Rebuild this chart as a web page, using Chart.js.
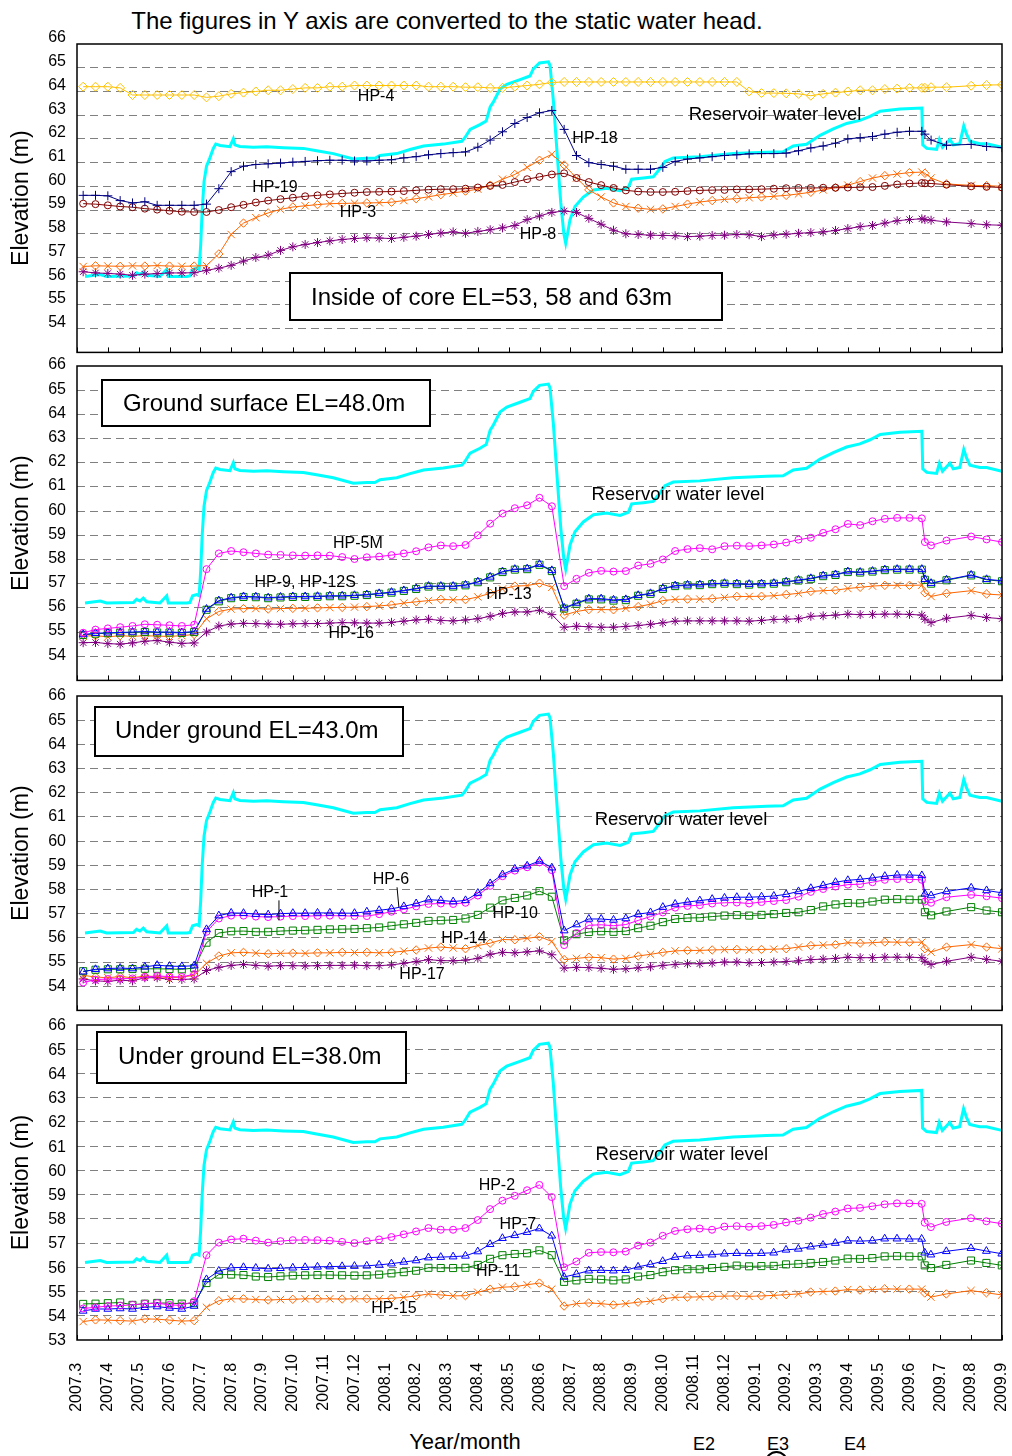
<!DOCTYPE html>
<html>
<head>
<meta charset="utf-8">
<script src="https://cdn.jsdelivr.net/npm/chart.js"></script>
<style>
html, body { margin: 0; padding: 0; background: #fff; overflow: hidden; }
#page { position: relative; width: 1012px; height: 1456px; overflow: hidden; font-family: "Liberation Sans", Arial, sans-serif; color: #000; background: #fff; }
#page canvas { position: absolute; left: 0; }
.txt { position: absolute; white-space: nowrap; line-height: 1; transform: translateX(-50%); }
.ring { position: absolute; border: 2px solid #000; border-radius: 50%; box-sizing: border-box; }
</style>
</head>
<body>
<div id="page">
  <div class="txt" style="left:447px;top:9px;font-size:24px">The figures in Y axis are converted to the static water head.</div>
  <div class="txt" style="left:465px;top:1431px;font-size:22px">Year/month</div>
  <div class="txt" style="left:704px;top:1435px;font-size:18px">E2</div>
  <div class="txt" style="left:778px;top:1435px;font-size:18px">E3</div>
  <div class="txt" style="left:855px;top:1435px;font-size:18px">E4</div>
  <div class="ring" style="left:765px;top:1451px;width:23px;height:23px"></div>
</div>
<script>
// Month axis: 0 = 2007.3 ... 30 = 2009.9
const MONTH_LABELS = ['2007.3','2007.4','2007.5','2007.6','2007.7','2007.8','2007.9','2007.10','2007.11','2007.12',
  '2008.1','2008.2','2008.3','2008.4','2008.5','2008.6','2008.7','2008.8','2008.9','2008.10','2008.11','2008.12',
  '2009.1','2009.2','2009.3','2009.4','2009.5','2009.6','2009.7','2009.8','2009.9'];

// Piezometer reading times (months since 2007.3)
const T = [0.2,0.6,1.0,1.4,1.8,2.2,2.6,3.0,3.4,3.8,
  4.2,4.6,5.0,5.4,5.8,6.2,6.6,7.0,7.4,7.8,
  8.2,8.6,9.0,9.4,9.8,10.2,10.6,11.0,11.4,11.8,
  12.2,12.6,13.0,13.4,13.8,14.2,14.6,15.0,15.4,15.8,
  16.2,16.6,17.0,17.4,17.8,18.2,18.6,19.0,19.4,19.8,
  20.2,20.6,21.0,21.4,21.8,22.2,22.6,23.0,23.4,23.8,
  24.2,24.6,25.0,25.4,25.8,26.2,26.6,27.0,27.4,
  27.5,27.7,28.2,29.0,29.5,30.0];

// Reservoir water level (m)
const RES_T = [0.26,0.75,0.96,1.83,1.93,2.04,2.15,2.26,2.69,2.91,2.96,3.56,3.66,3.75,3.88,3.96,4.01,4.06,4.12,4.2,
  4.31,4.42,4.5,4.64,4.96,5.07,5.12,5.28,5.72,6.15,6.69,7.34,7.77,8.31,8.96,9.4,9.66,9.83,10.37,10.8,
  11.24,11.88,12.48,12.58,12.75,13.07,13.27,13.4,13.5,13.72,13.94,14.37,14.69,14.8,15.0,15.29,15.34,15.45,15.56,15.69,
  15.79,15.85,15.91,15.99,16.15,16.42,16.75,17.18,17.61,17.88,17.99,18.37,18.69,18.91,19.07,19.34,20.2,21.28,22.36,22.9,
  23.23,23.66,24.1,24.53,24.96,25.39,25.72,26.05,26.69,27.4,27.43,27.56,27.88,27.97,28.07,28.31,28.42,28.63,28.76,28.85,
  28.96,29.28,29.5,30.0];
const RES_V = [56.2,56.28,56.2,56.22,56.35,56.28,56.4,56.25,56.2,56.5,56.2,56.2,56.22,56.5,56.55,56.5,57.5,59.0,60.2,60.85,
  61.2,61.6,61.78,61.72,61.67,62.0,61.75,61.68,61.65,61.67,61.63,61.6,61.5,61.38,61.15,61.18,61.18,61.3,61.38,61.55,
  61.7,61.78,61.9,62.05,62.4,62.6,62.75,63.35,63.55,64.1,64.3,64.5,64.65,64.95,65.2,65.25,65.1,63.6,61.6,59.3,
  58.0,57.6,58.0,58.6,59.15,59.55,59.85,59.92,59.82,59.95,60.3,60.35,60.4,60.75,61.05,61.2,61.25,61.38,61.44,61.46,
  61.7,61.77,62.15,62.42,62.65,62.78,62.95,63.17,63.26,63.3,61.75,61.6,61.56,61.98,61.65,61.98,61.75,61.8,62.55,62.2,
  61.9,61.8,61.8,61.65];

// Inside of core EL=53, 58 and 63m
const HP4 = [64.2,64.2,64.2,64.15,63.85,63.85,63.85,63.85,63.85,63.85,
  63.75,63.8,63.9,63.95,64.0,64.05,64.05,64.1,64.15,64.15,
  64.2,64.2,64.25,64.25,64.25,64.25,64.25,64.25,64.2,64.2,
  64.2,64.18,64.18,64.15,64.15,64.2,64.25,64.3,64.38,64.4,
  64.4,64.4,64.4,64.4,64.4,64.4,64.4,64.4,64.4,64.4,
  64.4,64.4,64.4,64.4,64.0,63.93,63.93,63.92,63.9,63.82,
  63.9,63.95,64.0,64.05,64.05,64.1,64.12,64.15,64.15,
  64.15,64.18,64.18,64.24,64.27,64.28];
const HP18 = [59.62,59.62,59.6,59.4,59.3,59.35,59.2,59.2,59.2,59.2,
  59.25,59.9,60.62,60.85,60.92,60.95,60.98,61.02,61.05,61.08,
  61.1,61.1,61.07,61.07,61.1,61.12,61.2,61.25,61.33,61.38,
  61.42,61.45,61.65,61.95,62.3,62.65,62.9,63.1,63.2,62.4,
  61.3,61.0,60.92,60.85,60.72,60.72,60.72,60.8,61.05,61.15,
  61.2,61.25,61.3,61.33,61.37,61.38,61.38,61.4,61.5,61.62,
  61.7,61.82,62.0,62.05,62.1,62.2,62.28,62.32,62.32,
  62.2,61.95,61.73,61.77,61.68,61.63];
const HP19 = [59.27,59.25,59.2,59.15,59.12,59.06,59.02,58.97,58.93,58.92,
  58.92,59.0,59.12,59.22,59.32,59.4,59.46,59.52,59.58,59.62,
  59.66,59.7,59.73,59.76,59.77,59.78,59.8,59.83,59.86,59.88,
  59.88,59.9,59.95,60.02,60.06,60.18,60.3,60.4,60.5,60.55,
  60.35,60.18,60.05,59.93,59.83,59.78,59.76,59.76,59.77,59.8,
  59.83,59.84,59.85,59.87,59.87,59.88,59.9,59.92,59.93,59.93,
  59.94,59.94,59.95,59.96,59.97,60.02,60.08,60.12,60.14,
  60.13,60.12,60.07,60.0,59.98,59.95];
const HP3 = [56.62,56.65,56.64,56.63,56.65,56.64,56.66,56.64,56.63,56.64,
  56.66,57.15,57.97,58.45,58.68,58.88,59.03,59.13,59.18,59.23,
  59.27,59.28,59.29,59.3,59.31,59.33,59.4,59.48,59.56,59.65,
  59.72,59.8,59.88,60.05,60.3,60.5,60.8,61.1,61.35,60.9,
  60.35,59.85,59.55,59.3,59.15,59.08,59.03,59.05,59.15,59.25,
  59.34,59.4,59.45,59.48,59.52,59.55,59.58,59.62,59.68,59.75,
  59.85,59.95,60.05,60.2,60.35,60.45,60.52,60.58,60.6,
  60.55,60.35,60.1,60.04,60.03,60.0];
const HP8 = [56.4,56.35,56.33,56.3,56.25,56.3,56.32,56.35,56.35,56.36,
  56.46,56.55,56.67,56.85,57.0,57.1,57.3,57.45,57.55,57.63,
  57.7,57.76,57.8,57.83,57.82,57.8,57.85,57.9,57.97,58.03,
  58.08,58.02,58.1,58.17,58.25,58.35,58.6,58.75,58.9,58.96,
  58.9,58.65,58.4,58.15,58.0,57.97,57.94,57.93,57.92,57.88,
  57.9,57.93,57.94,57.97,57.96,57.88,57.95,57.98,58.02,58.05,
  58.08,58.14,58.22,58.3,58.35,58.45,58.55,58.6,58.63,
  58.6,58.57,58.5,58.43,58.38,58.36];

// Ground surface EL=48.0m
const HP5M = [54.97,55.1,55.15,55.2,55.25,55.32,55.3,55.28,55.25,55.3,
  57.6,58.25,58.35,58.3,58.25,58.2,58.19,58.17,58.16,58.17,
  58.16,58.1,58.02,58.09,58.12,58.18,58.25,58.34,58.5,58.58,
  58.55,58.6,59.0,59.48,59.9,60.12,60.24,60.55,60.2,56.9,
  57.2,57.45,57.53,57.5,57.52,57.75,57.82,58.0,58.35,58.43,
  58.47,58.42,58.55,58.57,58.55,58.58,58.62,58.7,58.82,58.9,
  59.1,59.25,59.47,59.42,59.58,59.68,59.72,59.72,59.7,
  58.72,58.58,58.78,58.95,58.83,58.72];
const HP9 = [54.9,54.95,54.97,54.98,55.0,55.02,55.0,55.0,54.98,55.02,
  55.95,56.3,56.42,56.47,56.46,56.42,56.45,56.47,56.47,56.48,
  56.5,56.5,56.52,56.55,56.6,56.65,56.72,56.8,56.9,56.9,
  56.9,56.95,57.08,57.28,57.5,57.6,57.62,57.8,57.55,56.0,
  56.2,56.38,56.38,56.33,56.35,56.52,56.6,56.8,56.92,56.95,
  56.96,57.0,57.02,57.0,56.98,57.0,57.02,57.08,57.15,57.22,
  57.33,57.38,57.5,57.48,57.52,57.58,57.6,57.6,57.6,
  57.18,57.02,57.16,57.36,57.18,57.12];
const HP12S = [54.88,54.93,54.95,54.97,54.98,55.0,54.98,54.98,54.96,55.0,
  55.92,56.27,56.4,56.45,56.44,56.4,56.43,56.45,56.45,56.46,
  56.48,56.48,56.5,56.53,56.58,56.63,56.7,56.78,56.88,56.88,
  56.88,56.93,57.06,57.26,57.48,57.58,57.6,57.78,57.52,55.97,
  56.17,56.35,56.35,56.3,56.32,56.5,56.58,56.78,56.9,56.93,
  56.94,56.98,57.0,56.98,56.96,56.98,57.0,57.06,57.13,57.2,
  57.31,57.36,57.48,57.46,57.5,57.56,57.58,57.58,57.58,
  57.16,57.0,57.14,57.34,57.16,57.1];
const HP13 = [54.83,54.85,54.8,54.85,54.82,54.85,54.83,54.82,54.85,54.9,
  55.55,55.85,55.95,55.97,55.97,55.95,55.97,55.98,55.98,56.0,
  56.01,56.02,56.03,56.05,56.08,56.12,56.2,56.25,56.3,56.35,
  56.33,56.34,56.45,56.6,56.78,56.9,56.92,57.02,56.85,55.7,
  55.85,55.93,55.93,55.92,55.98,56.05,56.15,56.3,56.35,56.36,
  56.36,56.38,56.43,56.47,56.47,56.48,56.5,56.55,56.6,56.68,
  56.71,56.73,56.8,56.85,56.9,56.93,56.93,56.93,56.94,
  56.62,56.47,56.6,56.71,56.57,56.53];
const HP16 = [54.56,54.57,54.52,54.5,54.55,54.62,54.65,54.58,54.53,54.55,
  55.0,55.25,55.33,55.36,55.35,55.33,55.32,55.34,55.35,55.35,
  55.37,55.39,55.38,55.37,55.37,55.4,55.45,55.5,55.53,55.48,
  55.46,55.5,55.55,55.65,55.77,55.83,55.83,55.9,55.72,55.2,
  55.24,55.22,55.2,55.2,55.23,55.27,55.32,55.38,55.45,55.46,
  55.46,55.46,55.46,55.46,55.45,55.48,55.52,55.53,55.55,55.65,
  55.67,55.7,55.74,55.72,55.73,55.74,55.74,55.73,55.7,
  55.53,55.39,55.57,55.69,55.6,55.55];

// Under ground EL=43.0m
const HP6 = [54.6,54.7,54.73,54.75,54.73,54.8,54.87,54.83,54.82,54.85,
  56.35,56.92,57.03,57.02,56.98,56.96,57.0,57.02,57.02,57.03,
  57.03,57.02,57.02,57.08,57.14,57.2,57.3,57.42,57.58,57.55,
  57.5,57.55,57.85,58.25,58.62,58.85,58.98,59.18,58.9,56.3,
  56.55,56.78,56.78,56.74,56.8,56.98,57.05,57.27,57.4,57.48,
  57.54,57.6,57.65,57.68,57.68,57.7,57.73,57.8,57.92,58.05,
  58.17,58.3,58.38,58.42,58.48,58.55,58.6,58.6,58.58,
  57.82,57.75,57.92,58.07,57.96,57.86];
const HP1 = [54.15,54.27,54.3,54.31,54.32,54.38,54.42,54.4,54.38,54.5,
  56.25,56.8,56.92,56.92,56.88,56.86,56.88,56.9,56.9,56.91,
  56.92,56.91,56.9,56.9,56.98,57.08,57.18,57.3,57.4,57.42,
  57.4,57.45,57.75,58.15,58.55,58.78,58.92,59.12,58.8,55.7,
  56.2,56.52,56.54,56.5,56.55,56.72,56.88,57.05,57.25,57.32,
  57.35,57.42,57.45,57.46,57.42,57.48,57.52,57.56,57.7,57.9,
  58.02,58.12,58.2,58.22,58.3,58.4,58.43,58.42,58.4,
  57.5,57.45,57.68,57.78,57.72,57.64];
const HP10 = [54.62,54.68,54.7,54.7,54.71,54.72,54.72,54.71,54.7,54.75,
  55.8,56.2,56.27,56.28,56.25,56.25,56.28,56.3,56.31,56.33,
  56.35,56.36,56.37,56.4,56.43,56.5,56.56,56.62,56.7,56.72,
  56.74,56.8,56.95,57.25,57.55,57.65,57.75,57.93,57.7,55.9,
  56.15,56.24,56.27,56.25,56.28,56.4,56.5,56.65,56.78,56.82,
  56.83,56.88,56.92,56.94,56.92,56.95,56.98,57.03,57.06,57.15,
  57.3,57.38,57.44,57.43,57.5,57.58,57.6,57.58,57.58,
  57.06,56.93,57.09,57.27,57.13,57.06];
const HP14 = [54.45,54.38,54.35,54.4,54.35,54.42,54.4,54.35,54.38,54.45,
  54.95,55.25,55.38,55.4,55.37,55.34,55.36,55.37,55.36,55.38,
  55.38,55.4,55.39,55.4,55.38,55.4,55.45,55.5,55.58,55.62,
  55.58,55.55,55.68,55.78,55.93,55.92,55.98,56.05,55.85,55.1,
  55.15,55.2,55.18,55.12,55.15,55.25,55.32,55.4,55.46,55.48,
  55.48,55.5,55.51,55.52,55.5,55.52,55.53,55.55,55.62,55.68,
  55.7,55.72,55.8,55.78,55.8,55.83,55.82,55.82,55.82,
  55.55,55.41,55.62,55.72,55.62,55.55];
const HP17 = [54.3,54.22,54.2,54.25,54.22,54.35,54.35,54.28,54.28,54.3,
  54.65,54.78,54.86,54.9,54.86,54.83,54.85,54.85,54.84,54.85,
  54.86,54.86,54.87,54.85,54.85,54.88,54.95,55.02,55.1,55.06,
  55.05,55.08,55.15,55.32,55.4,55.38,55.42,55.46,55.3,54.75,
  54.78,54.77,54.74,54.7,54.72,54.76,54.8,54.86,54.9,54.93,
  54.93,54.96,55.0,55.0,54.97,54.98,55.0,55.02,55.05,55.1,
  55.12,55.15,55.2,55.18,55.18,55.2,55.2,55.2,55.18,
  55.03,54.9,55.03,55.2,55.11,55.03];

// Under ground EL=38.0m
const HP2 = [54.3,54.35,54.4,54.42,54.45,54.5,54.52,54.45,54.43,54.6,
  56.5,57.02,57.15,57.18,57.1,57.02,57.08,57.12,57.13,57.12,
  57.1,57.05,57.0,57.08,57.15,57.25,57.36,57.48,57.62,57.55,
  57.55,57.62,57.95,58.4,58.75,58.95,59.18,59.4,58.9,56.0,
  56.24,56.6,56.63,56.62,56.65,56.9,57.02,57.3,57.5,57.57,
  57.6,57.55,57.68,57.7,57.67,57.7,57.75,57.85,57.92,58.05,
  58.2,58.3,58.43,58.45,58.52,58.6,58.64,58.64,58.62,
  57.84,57.66,57.87,58.03,57.9,57.8];
const HP7 = [54.2,54.28,54.28,54.3,54.28,54.35,54.38,54.32,54.28,54.4,
  55.5,55.85,55.98,56.0,55.97,55.94,55.96,55.98,56.0,56.02,
  56.03,56.04,56.05,56.06,56.1,56.15,56.22,56.28,56.4,56.42,
  56.44,56.47,56.65,56.95,57.2,57.32,57.45,57.6,57.3,55.6,
  55.72,55.86,55.88,55.86,55.88,56.02,56.12,56.25,56.42,56.48,
  56.5,56.52,56.56,56.58,56.57,56.58,56.6,56.72,56.76,56.85,
  56.92,57.0,57.1,57.08,57.1,57.18,57.18,57.17,57.17,
  56.6,56.52,56.66,56.79,56.67,56.56];
const HP11 = [54.49,54.5,54.52,54.55,54.45,54.5,54.53,54.52,54.5,54.52,
  55.35,55.7,55.7,55.68,55.62,55.6,55.63,55.66,55.67,55.68,
  55.68,55.67,55.66,55.67,55.7,55.75,55.8,55.86,55.98,55.97,
  55.97,55.98,56.1,56.35,56.5,56.55,56.58,56.7,56.5,55.4,
  55.46,55.52,55.5,55.46,55.5,55.62,55.68,55.8,55.88,55.92,
  55.92,55.97,56.02,56.07,56.04,56.05,56.06,56.12,56.14,56.18,
  56.22,56.28,56.36,56.35,56.38,56.45,56.46,56.45,56.45,
  56.08,55.97,56.1,56.28,56.18,56.08];
const HP15 = [53.76,53.83,53.82,53.8,53.78,53.87,53.86,53.82,53.78,53.8,
  54.35,54.62,54.7,54.7,54.67,54.65,54.67,54.68,54.7,54.7,
  54.7,54.69,54.7,54.7,54.7,54.72,54.76,54.82,54.9,54.86,
  54.82,54.83,54.97,55.1,55.18,55.2,55.28,55.35,55.1,54.4,
  54.5,54.53,54.5,54.45,54.5,54.56,54.6,54.7,54.76,54.77,
  54.78,54.8,54.81,54.82,54.8,54.82,54.84,54.87,54.9,54.98,
  55.0,55.02,55.08,55.06,55.08,55.11,55.1,55.1,55.1,
  54.94,54.77,54.9,55.04,54.95,54.86];

const SERIES = {
  'HP-4': HP4, 'HP-18': HP18, 'HP-19': HP19, 'HP-3': HP3, 'HP-8': HP8,
  'HP-5M': HP5M, 'HP-9': HP9, 'HP-12S': HP12S, 'HP-13': HP13, 'HP-16': HP16,
  'HP-6': HP6, 'HP-1': HP1, 'HP-10': HP10, 'HP-14': HP14, 'HP-17': HP17,
  'HP-2': HP2, 'HP-7': HP7, 'HP-11': HP11, 'HP-15': HP15
};

const ORANGE = '#FF6600', PURPLE = '#800080', MAGENTA = '#FF00FF', BLUE = '#0000FF', GREEN = '#008000';
const STYLE = {
  'HP-4':  { color: '#FFC000', shape: 'rectRot', r: 4.5 },
  'HP-18': { color: '#000080', shape: 'cross', r: 4.5 },
  'HP-19': { color: '#800000', shape: 'circle', r: 3.5 },
  'HP-3':  { color: ORANGE, shape: 'alt' },
  'HP-8':  { color: PURPLE, shape: 'star', r: 4.5 },
  'HP-5M': { color: MAGENTA, shape: 'circle', r: 3.5 },
  'HP-9':  { color: BLUE, shape: 'triangle', r: 4.5 },
  'HP-12S':{ color: GREEN, shape: 'rect', r: 5 },
  'HP-13': { color: ORANGE, shape: 'alt' },
  'HP-16': { color: PURPLE, shape: 'star', r: 4.5 },
  'HP-6':  { color: BLUE, shape: 'triangle', r: 4.5 },
  'HP-1':  { color: MAGENTA, shape: 'circle', r: 3.5 },
  'HP-10': { color: GREEN, shape: 'rect', r: 5 },
  'HP-14': { color: ORANGE, shape: 'alt' },
  'HP-17': { color: PURPLE, shape: 'star', r: 4.5 },
  'HP-2':  { color: MAGENTA, shape: 'circle', r: 3.5 },
  'HP-7':  { color: BLUE, shape: 'triangle', r: 4.5 },
  'HP-11': { color: GREEN, shape: 'rect', r: 5 },
  'HP-15': { color: ORANGE, shape: 'alt' }
};

const RESERVOIR = 'Reservoir water level';

// Panel layout (page pixels) and annotation placement
const PANELS = [
  { top: 44, bottom: 352, labelOffset: -6, showX: false, showBottomTick: false,
    series: ['HP-4', 'HP-18', 'HP-19', 'HP-3', 'HP-8'],
    box: { x: 213, y: 229, w: 432, h: 47, text: 'Inside of core EL=53, 58 and 63m', tx: 234, ty: 254 },
    labels: [['HP-4', 9.70, 63.80], [RESERVOIR, 22.64, 63.00, 18.5], ['HP-18', 16.80, 62.03],
             ['HP-19', 6.42, 59.96], ['HP-3', 9.11, 58.91], ['HP-8', 14.95, 57.98]],
    leaders: [] },
  { top: 366, bottom: 680, labelOffset: -1, showX: false, showBottomTick: false,
    series: ['HP-5M', 'HP-9', 'HP-12S', 'HP-13', 'HP-16'],
    box: { x: 25, y: 14, w: 328, h: 46, text: 'Ground surface EL=48.0m', tx: 46, ty: 38 },
    labels: [[RESERVOIR, 19.49, 60.66, 18.5], ['HP-5M', 9.11, 58.67], ['HP-9, HP-12S', 7.40, 57.06],
             ['HP-13', 14.01, 56.56], ['HP-16', 8.89, 54.94]],
    leaders: [] },
  { top: 696, bottom: 1010, labelOffset: 0, showX: false, showBottomTick: false,
    series: ['HP-6', 'HP-1', 'HP-10', 'HP-14', 'HP-17'],
    box: { x: 18, y: 11, w: 308, h: 49, text: 'Under ground EL=43.0m', tx: 38, ty: 35 },
    labels: [[RESERVOIR, 19.59, 60.87, 18.5], ['HP-1', 6.26, 57.88], ['HP-6', 10.18, 58.42],
             ['HP-10', 14.21, 57.01], ['HP-14', 12.55, 55.98], ['HP-17', 11.19, 54.49]],
    leaders: [[6.55, 57.55, 6.55, 56.72], [10.38, 58.09, 10.44, 57.26]] },
  { top: 1025, bottom: 1340, labelOffset: 1, showX: true, showBottomTick: true,
    series: ['HP-2', 'HP-7', 'HP-11', 'HP-15'],
    box: { x: 20, y: 7, w: 309, h: 51, text: 'Under ground EL=38.0m', tx: 41, ty: 32 },
    labels: [[RESERVOIR, 19.62, 60.63, 18.5], ['HP-2', 13.62, 59.36], ['HP-7', 14.30, 57.75],
             ['HP-11', 13.66, 55.81], ['HP-15', 10.28, 54.28]],
    leaders: [] }
];

const FONT = '"Liberation Sans", Arial, sans-serif';
Chart.defaults.font.family = FONT;
Chart.defaults.color = '#000';

function hpDataset(name) {
  const s = STYLE[name];
  const vals = SERIES[name];
  const alt = s.shape === 'alt';
  return {
    label: name,
    data: T.map((t, i) => ({ x: t, y: vals[i] })),
    borderColor: s.color,
    borderWidth: 1,
    pointStyle: alt ? (c => (c.dataIndex % 2 ? 'rectRot' : 'crossRot')) : s.shape,
    pointRadius: alt ? (c => (c.dataIndex % 2 ? 4.2 : 5.2)) : s.r,
    pointBorderColor: s.color,
    pointBackgroundColor: 'rgba(0,0,0,0)',
    pointBorderWidth: 1,
    pointHoverRadius: 0,
    tension: 0,
    fill: false
  };
}

function reservoirDataset() {
  return {
    label: RESERVOIR,
    data: RES_T.map((t, i) => ({ x: t, y: RES_V[i] })),
    borderColor: '#00FFFF',
    borderWidth: 3,
    pointRadius: 0,
    pointHoverRadius: 0,
    tension: 0,
    fill: false
  };
}

// Frame, inward month ticks, caption box, series names
const decor = {
  id: 'decor',
  afterDatasetsDraw(chart, args, opts) {
    const p = opts.panel;
    if (!p) return;
    const { ctx, chartArea: a, scales } = chart;
    const xs = scales.x, ys = scales.y;
    ctx.save();
    ctx.strokeStyle = '#000';
    ctx.lineWidth = 1;
    ctx.beginPath();
    for (let m = 0; m <= 30; m++) {
      const px = Math.round(xs.getPixelForValue(m)) + 0.5;
      ctx.moveTo(px, a.bottom);
      ctx.lineTo(px, a.bottom - 5);
    }
    ctx.stroke();
    ctx.lineWidth = 1.5;
    ctx.strokeRect(a.left, a.top, a.right - a.left, a.bottom - a.top);

    const b = p.box;
    ctx.fillStyle = '#fff';
    ctx.fillRect(a.left + b.x, a.top + b.y, b.w, b.h);
    ctx.lineWidth = 2;
    ctx.strokeRect(a.left + b.x, a.top + b.y, b.w, b.h);
    ctx.fillStyle = '#000';
    ctx.font = '24px ' + FONT;
    ctx.textAlign = 'left';
    ctx.textBaseline = 'middle';
    ctx.fillText(b.text, a.left + b.tx, a.top + b.ty);

    ctx.textAlign = 'center';
    for (const [text, t, v, size] of p.labels) {
      ctx.font = (size || 16) + 'px ' + FONT;
      ctx.fillText(text, xs.getPixelForValue(t), ys.getPixelForValue(v));
    }
    ctx.lineWidth = 1;
    ctx.beginPath();
    for (const [t0, v0, t1, v1] of p.leaders) {
      ctx.moveTo(xs.getPixelForValue(t0), ys.getPixelForValue(v0));
      ctx.lineTo(xs.getPixelForValue(t1), ys.getPixelForValue(v1));
    }
    ctx.stroke();
    ctx.restore();
  }
};

const page = document.getElementById('page');
const PAD_TOP = 22;
const X_AXIS_H = 80;
const PLOT_LEFT = 77, PLOT_RIGHT = 1002;

PANELS.forEach(p => {
  const cv = document.createElement('canvas');
  let top = p.top - PAD_TOP;
  const padBottom = p.showX ? 0 : 2;
  const xh = p.showX ? X_AXIS_H : 0;
  let w = 1012;
  let h = p.bottom - top + xh + padBottom;
  cv.width = w;
  cv.height = h;
  cv.style.top = top + 'px';
  cv.style.width = w + 'px';
  cv.style.height = h + 'px';
  page.appendChild(cv);

  const datasets = p.series.map(hpDataset);
  datasets.push(reservoirDataset());

  const chart = new Chart(cv, {
    type: 'line',
    data: { datasets },
    plugins: [decor],
    options: {
      responsive: false,
      maintainAspectRatio: false,
      animation: false,
      devicePixelRatio: 1,
      events: [],
      layout: { autoPadding: false, padding: { top: PAD_TOP, right: 10, bottom: padBottom, left: 0 } },
      plugins: { legend: { display: false }, tooltip: { enabled: false }, decor: { panel: p } },
      scales: {
        x: {
          type: 'linear', min: 0, max: 30,
          afterFit: s => { s.height = xh; },
          grid: { display: false, drawTicks: false },
          border: { display: false },
          ticks: {
            display: p.showX, stepSize: 1, autoSkip: false, maxTicksLimit: 40,
            minRotation: 90, maxRotation: 90, padding: 14,
            font: { size: 16 }, color: '#000',
            callback: v => {
              const lab = MONTH_LABELS[Math.round(v)];
              if (lab === undefined) return '';
              return lab.length < 7 ? lab + '  ' : lab;
            }
          }
        },
        y: {
          min: 53, max: 66,
          afterFit: s => { s.width = PLOT_LEFT; },
          grid: {
            drawTicks: false, lineWidth: 1,
            color: c => (c.tick && (c.tick.value === 53 || c.tick.value === 66)) ? 'rgba(0,0,0,0)' : '#808080'
          },
          border: { display: false, dash: [8, 5] },
          ticks: {
            stepSize: 1, autoSkip: false, maxTicksLimit: 20, padding: 11,
            labelOffset: p.labelOffset, font: { size: 16 }, color: '#000',
            callback: v => (v === 53 && !p.showBottomTick) ? '' : String(v)
          },
          title: { display: true, text: 'Elevation (m)', font: { size: 23 }, color: '#000', padding: { top: 8, bottom: 0 } }
        }
      }
    }
  });

  // Size and place the canvas so the plot area sits exactly on the panel frame
  for (let k = 0; k < 5; k++) {
    const a = chart.chartArea;
    top = Math.round(p.top - a.top);
    cv.style.top = top + 'px';
    const dx = Math.round(PLOT_RIGHT - a.right);
    const dy = Math.round((p.bottom - top) - a.bottom);
    if (!dx && !dy) break;
    w += dx; h += dy;
    chart.resize(w, h);
    cv.style.width = w + 'px';
    cv.style.height = h + 'px';
  }
});
</script>
</body>
</html>
